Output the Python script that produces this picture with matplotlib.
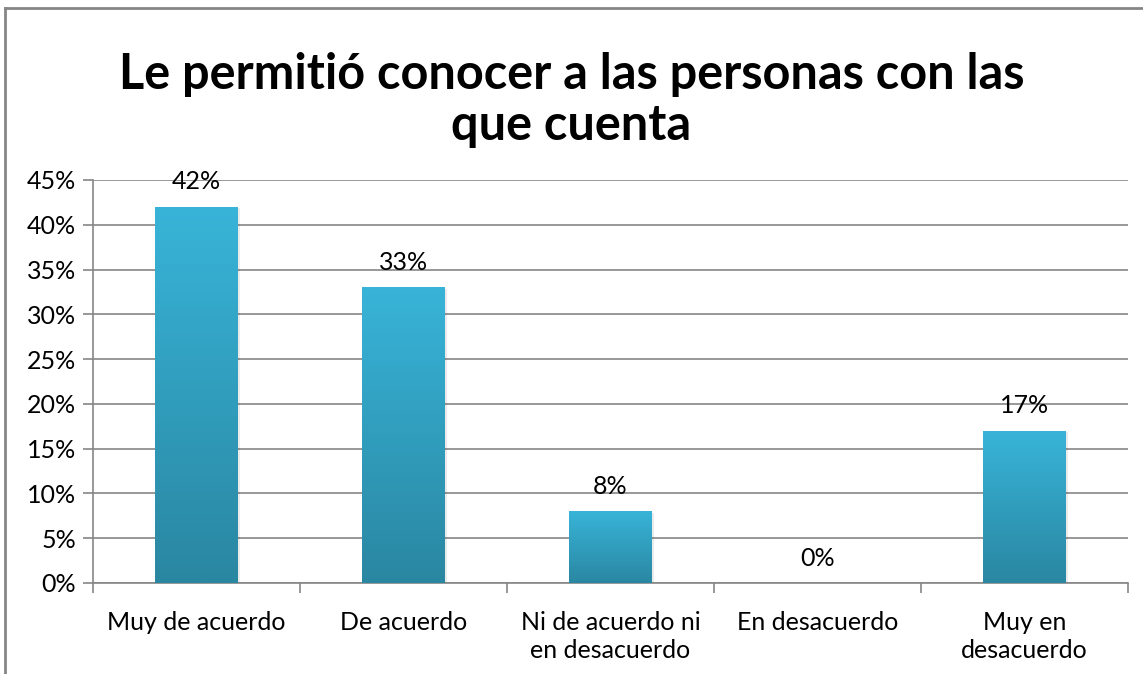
import numpy as np
import matplotlib.pyplot as plt
from matplotlib.colors import LinearSegmentedColormap
from matplotlib.patches import Rectangle

plt.rcParams['font.family'] = ['Lato', 'DejaVu Sans']

categorias = ['Muy de acuerdo', 'De acuerdo', 'Ni de acuerdo ni\nen desacuerdo',
              'En desacuerdo', 'Muy en\ndesacuerdo']
valores = [42, 33, 8, 0, 17]
etiquetas = ['42%', '33%', '8%', '0%', '17%']
ticks_y = [0, 5, 10, 15, 20, 25, 30, 35, 40, 45]

fig = plt.figure(figsize=(11.43, 6.74), dpi=100)
ax = fig.add_axes([93 / 1143, 1 - 583 / 674, (1128 - 93) / 1143, (583 - 180) / 674])

x = np.arange(len(categorias))
ancho = 0.4
bars = ax.bar(x, valores, width=ancho, color='none', zorder=3)

# gradient fill, light on top, darker at the base
cmap = LinearSegmentedColormap.from_list('azul', ['#2a87a2', '#38b4d8'])
grad = np.linspace(0, 1, 256).reshape(-1, 1)
for b, v in zip(bars, valores):
    if v <= 0:
        continue
    x0 = b.get_x()
    sombra = Rectangle((x0 + 0.012, 0), ancho, v - 0.15, color='#000000', alpha=0.08,
                       zorder=2, lw=0)
    ax.add_patch(sombra)
    im = ax.imshow(grad, cmap=cmap, aspect='auto', origin='lower',
                   extent=(x0, x0 + ancho, 0, v), zorder=3)
    im.set_clip_path(b)

for xi, v, t in zip(x, valores, etiquetas):
    ax.text(xi, v + 1.5, t, ha='center', va='bottom', fontsize=18, color='#000000', zorder=4)

ax.set_xlim(-0.5, len(categorias) - 0.5)
ax.set_ylim(0, 45)
ax.set_yticks(ticks_y)
ax.set_yticklabels([f'{t}%' for t in ticks_y], fontsize=18)
ax.yaxis.grid(True, color='#868686', lw=1.2, zorder=0)
ax.set_axisbelow(True)

ax.set_xticks(np.arange(-0.5, len(categorias), 1.0), minor=False)
ax.set_xticklabels([])
ax.set_xticks(x, minor=True)
ax.set_xticklabels(categorias, minor=True, fontsize=18, linespacing=1.3)
ax.tick_params(axis='x', which='minor', length=0, pad=20)
ax.tick_params(axis='x', which='major', length=7, color='#868686', width=1.2)
ax.tick_params(axis='y', length=7, color='#868686', width=1.2, pad=5)

for s in ['top', 'right']:
    ax.spines[s].set_visible(False)
for s in ['left', 'bottom']:
    ax.spines[s].set_color('#868686')
    ax.spines[s].set_linewidth(1.2)

fig.text(0.5, 1 - 100 / 674, 'Le permitió conocer a las personas con las\nque cuenta',
         ha='center', va='center', fontsize=35, fontweight='bold', linespacing=1.18)

# outer chart frame
fig.add_artist(plt.Line2D([5 / 1143, 5 / 1143], [0, 1 - 8 / 674], color='#868686', lw=2))
fig.add_artist(plt.Line2D([5 / 1143, 1], [1 - 8 / 674, 1 - 8 / 674], color='#868686', lw=2))

fig.savefig('out.png', dpi=100)
